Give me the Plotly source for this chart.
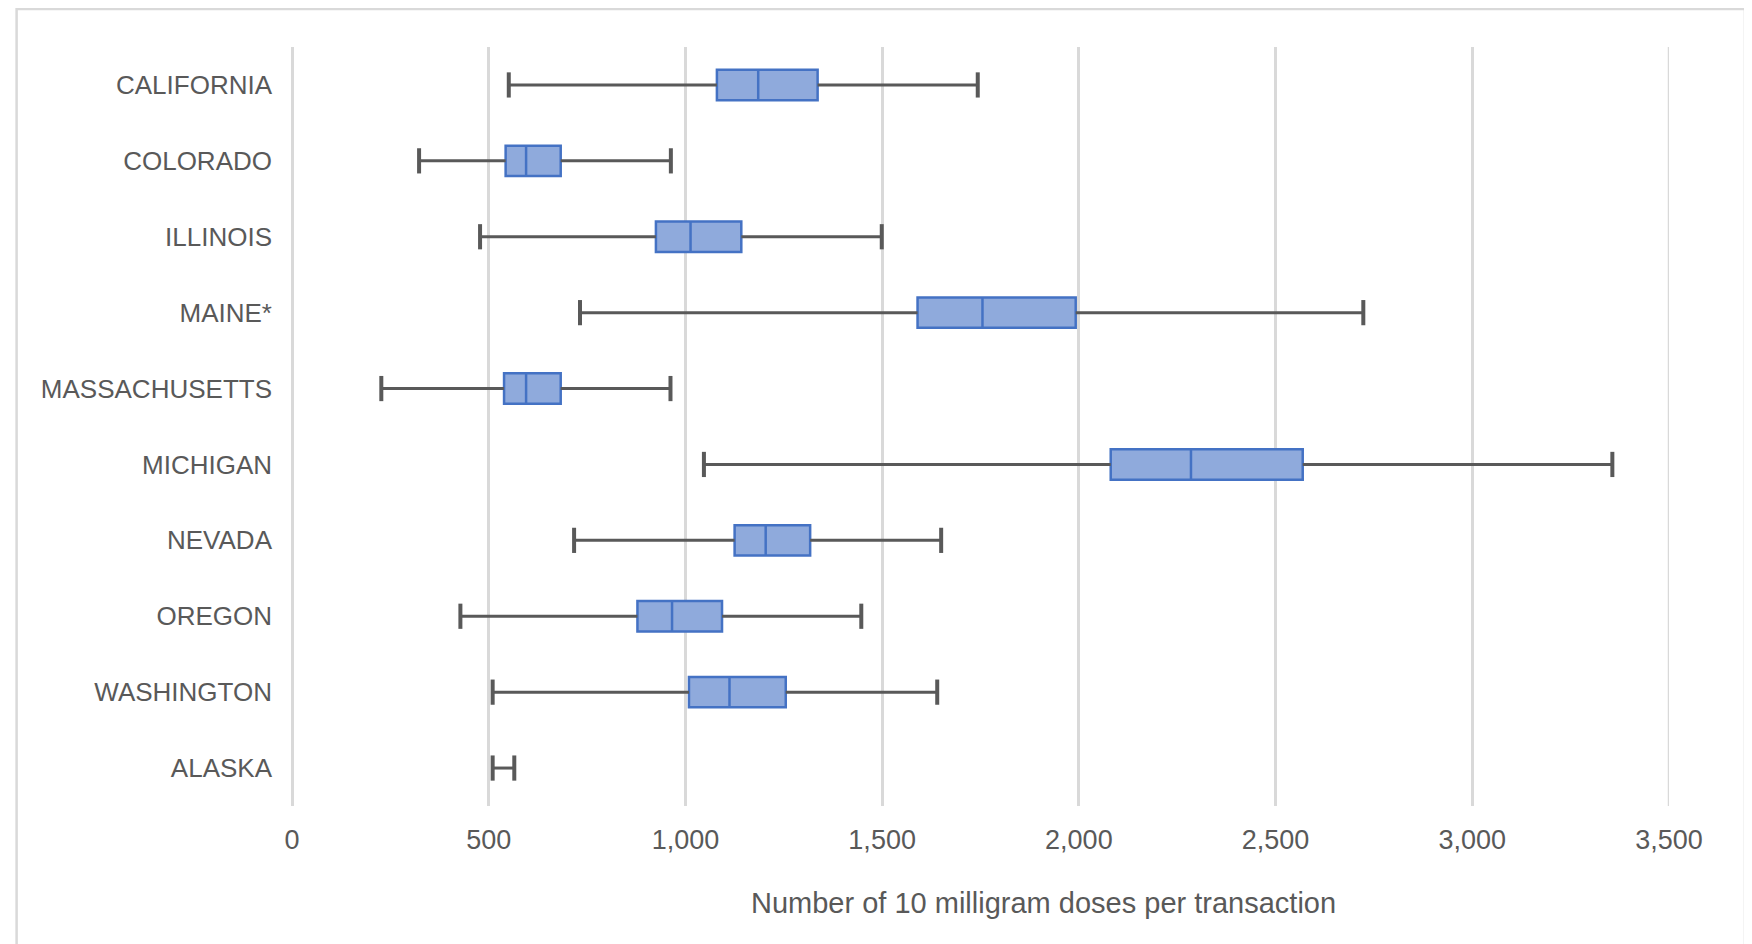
import plotly.graph_objects as go

# ---- data ----
states = ["CALIFORNIA", "COLORADO", "ILLINOIS", "MAINE*", "MASSACHUSETTS",
          "MICHIGAN", "NEVADA", "OREGON", "WASHINGTON", "ALASKA"]
mins    = [551, 323, 478, 732, 227, 1047, 717, 428, 510, 510]
q1s     = [1080, 543, 925, 1590, 539, 2081, 1125, 878, 1009, None]
medians = [1185, 595, 1013, 1755, 595, 2285, 1204, 966, 1112, None]
q3s     = [1336, 683, 1142, 1992, 683, 2569, 1317, 1093, 1255, None]
maxs    = [1743, 963, 1499, 2723, 962, 3356, 1650, 1447, 1640, 565]
x_ticks = [0, 500, 1000, 1500, 2000, 2500, 3000, 3500]
x_title = "Number of 10 milligram doses per transaction"

# ---- styling ----
OFF = 8                       # page body margin
W, H = 1752 - OFF, 944 - OFF
ML = 291.5 - OFF
MR = W - (1669 - OFF)
MT = 47 - OFF
MB = H - (806 - OFF)
GRAY_TXT = "#595959"
WHISKER = "#595959"
GRID = "#d9d9d9"
BOX_FILL = "#8faadc"
BOX_LINE = "#4472c4"
FONT = "Liberation Sans, Arial, sans-serif"

pw = W - ML - MR
ph = H - MT - MB


def px_x(px):
    return (px - OFF - ML) / pw


def px_y(py):
    return (H - MB - (py - OFF)) / ph


fig = go.Figure()

# whisker segments
wx, wy = [], []
for s, lo, a, b, hi in zip(states, mins, q1s, q3s, maxs):
    if a is None:
        wx += [lo, hi, None]
        wy += [s, s, None]
    else:
        wx += [lo, a, None, b, hi, None]
        wy += [s, s, None, s, s, None]
fig.add_trace(go.Scatter(x=wx, y=wy, mode="lines",
                         line=dict(color=WHISKER, width=3),
                         hoverinfo="skip", showlegend=False))

# whisker caps
cx = mins + maxs
cy = states + states
fig.add_trace(go.Scatter(x=cx, y=cy, mode="markers",
                         marker=dict(symbol="line-ns", size=18,
                                     line=dict(color=WHISKER, width=4)),
                         hoverinfo="skip", showlegend=False))

# boxes
bs = [s for s, q in zip(states, q1s) if q is not None]
fig.add_trace(go.Box(
    orientation="h",
    y=bs,
    q1=[q for q in q1s if q is not None],
    median=[m for m in medians if m is not None],
    q3=[q for q in q3s if q is not None],
    lowerfence=[q for q in q1s if q is not None],
    upperfence=[q for q in q3s if q is not None],
    width=0.4,
    whiskerwidth=0,
    fillcolor=BOX_FILL,
    line=dict(color=BOX_LINE, width=2.5),
    boxpoints=False,
    showlegend=False,
))

fig.update_layout(
    width=W, height=H,
    margin=dict(l=ML, r=MR, t=MT, b=MB, pad=0),
    paper_bgcolor="white", plot_bgcolor="white",
    font=dict(family=FONT, color=GRAY_TXT),
    showlegend=False,
    xaxis=dict(range=[0, 3500], tickvals=x_ticks, tickformat=",",
               showgrid=True, gridcolor=GRID, gridwidth=2.5,
               zeroline=True, zerolinecolor=GRID, zerolinewidth=2.5,
               showline=False, ticks="",
               tickfont=dict(size=27, color=GRAY_TXT),
               ticklabelstandoff=15),
    yaxis=dict(type="category", categoryorder="array", categoryarray=states,
               range=[len(states) - 0.5, -0.5],
               showgrid=False, zeroline=False, showline=False, ticks="",
               tickfont=dict(size=26, color=GRAY_TXT),
               ticklabelstandoff=19),
    annotations=[dict(text=x_title, xref="paper", yref="paper",
                      x=px_x(1043), y=px_y(903), xanchor="center", yanchor="middle",
                      showarrow=False, font=dict(size=29, color=GRAY_TXT, family=FONT))],
    shapes=[
        dict(type="rect", xref="paper", yref="paper",
             x0=px_x(16), x1=px_x(1745), y0=px_y(990), y1=px_y(9),
             line=dict(color=GRID, width=2.5), fillcolor="rgba(0,0,0,0)",
             layer="below"),
        # last gridline at the right edge of the axis range
        dict(type="line", xref="x", yref="paper",
             x0=x_ticks[-1], x1=x_ticks[-1], y0=0, y1=1,
             line=dict(color=GRID, width=2.5), layer="below"),
    ],
)

fig.write_html("out.html")
